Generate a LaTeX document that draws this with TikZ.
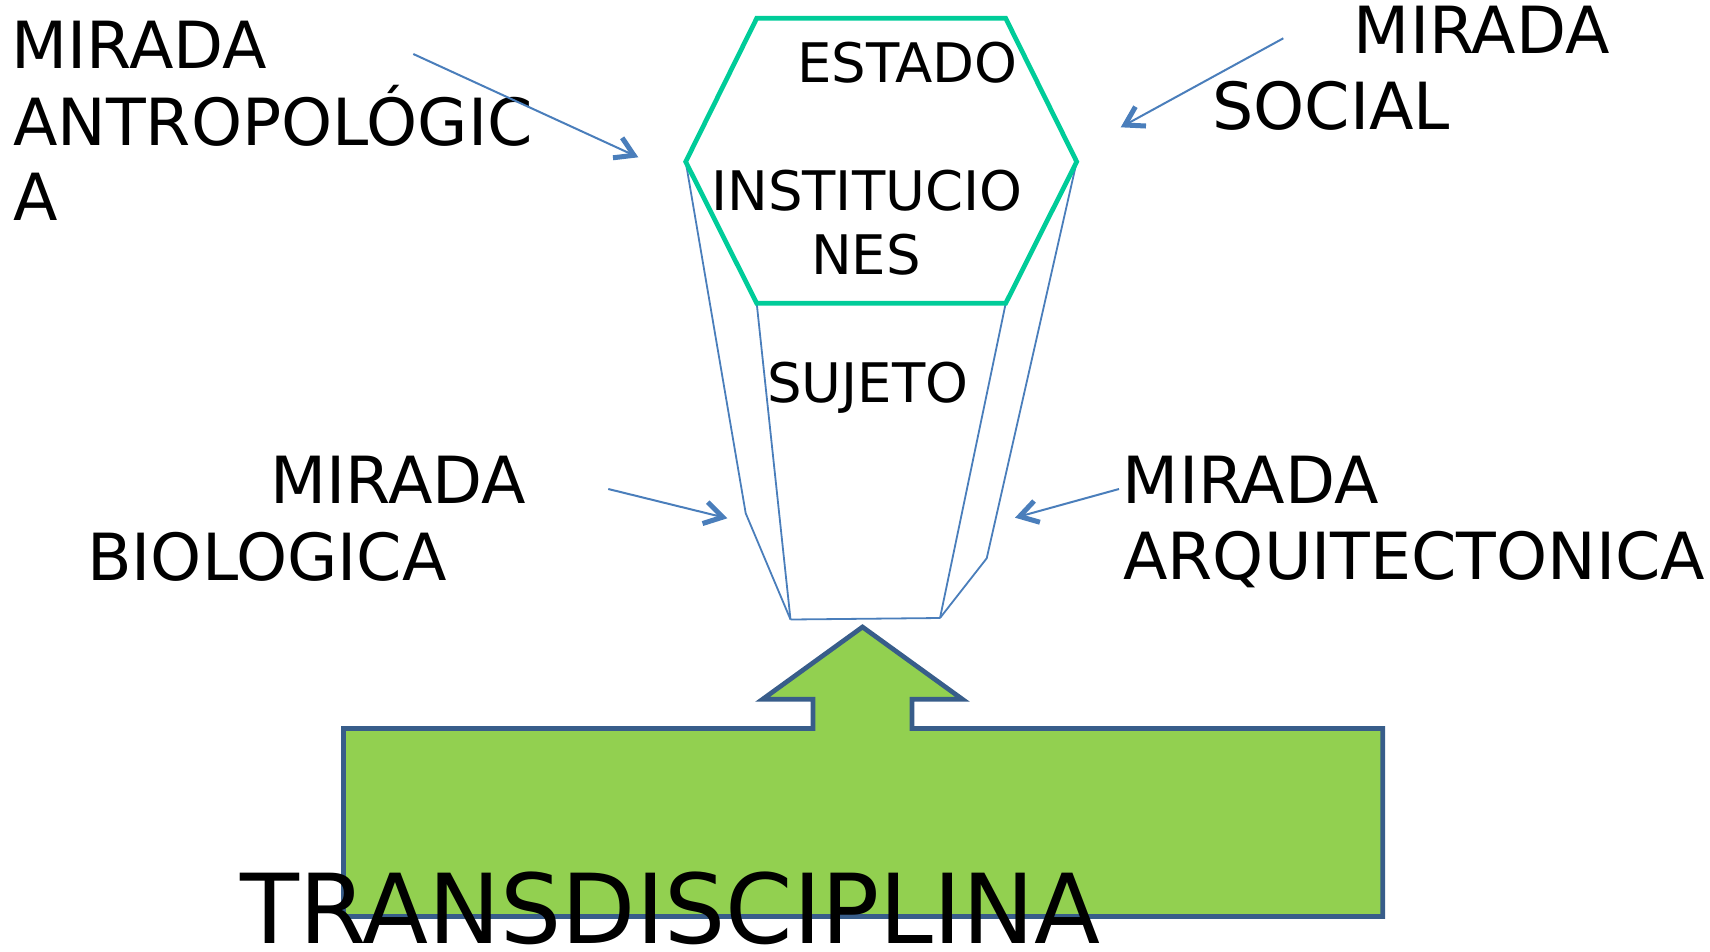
\documentclass[tikz,border=0pt]{standalone}
\usepackage{fontspec}
\setmainfont{DejaVu Sans}
\usetikzlibrary{arrows.meta}
\definecolor{hexgreen}{RGB}{0,204,153}
\definecolor{lineblue}{RGB}{74,126,187}
\definecolor{fillgreen}{RGB}{146,208,80}
\definecolor{edgeblue}{RGB}{56,93,138}
\begin{document}
\begin{tikzpicture}[x=1pt,y=-1pt,
  lbl/.style={anchor=base west,inner sep=0pt,font=\fontsize{65}{76}\selectfont},
  hexlbl/.style={anchor=base west,inner sep=0pt,font=\fontsize{54.5}{64}\selectfont},
  biglbl/.style={anchor=base west,inner sep=0pt,font=\fontsize{96.5}{110}\selectfont},
  hexline/.style={draw=hexgreen,line width=4.7pt,line join=miter},
  bodyline/.style={draw=lineblue,line width=1.8pt},
  pointer/.style={draw=lineblue,line width=2pt,-{Straight Barb[length=18pt,width=22pt,line width=5pt]}},
  bigarrow/.style={fill=fillgreen,draw=edgeblue,line width=4.7pt,line join=miter}]
\useasboundingbox (0,0) rectangle (1710,951);

% big green arrow shape
\draw[bigarrow] (343.5,728.5) -- (813,728.5) -- (813,699.3) -- (762.5,699.3)
  -- (862.5,627) -- (962.5,699.3) -- (912,699.3) -- (912,728.5)
  -- (1382.7,728.5) -- (1382.7,916.4) -- (343.5,916.4) -- cycle;

% hexagon vertices
\coordinate (hTL) at (756.7,18.3);
\coordinate (hTR) at (1005.7,18.3);
\coordinate (hR) at (1076.7,161.7);
\coordinate (hBR) at (1005.7,303.3);
\coordinate (hBL) at (756.7,303.3);
\coordinate (hL) at (685.7,161.7);
% body vertices
\coordinate (bLk) at (745.7,513.3);
\coordinate (bBL) at (790.5,619.5);
\coordinate (bBR) at (940,618);
\coordinate (bRk) at (986.7,558.3);

% body lines
\draw[bodyline] (hL) -- (bLk) -- (bBL);
\draw[bodyline] (hBL) -- (bBL);
\draw[bodyline] (bBL) -- (bBR);
\draw[bodyline] (hBR) -- (bBR);
\draw[bodyline] (hR) -- (bRk) -- (bBR);

% hexagon
\draw[hexline] (hTL) -- (hTR) -- (hR) -- (hBR) -- (hBL) -- (hL) -- cycle;

% texts inside
\node[hexlbl] (estado) at (797,82.7) {ESTADO};
\node[hexlbl] (inst1) at (711,210) {INSTITUCIO};
\node[hexlbl] (inst2) at (811,274) {NES};
\node[hexlbl] (sujeto) at (767,402.7) {SUJETO};

% outer labels
\node[lbl] (antro1) at (11,68.3) {MIRADA};
\node[lbl] (antro2) at (13,145) {ANTROPOLÓGIC};
\node[lbl] (antro3) at (13,220.7) {A};
\node[lbl] (social1) at (1353.7,53.3) {MIRADA};
\node[lbl] (social2) at (1212,129.3) {SOCIAL};
\node[lbl] (bio1) at (270.4,503.3) {MIRADA};
\node[lbl] (bio2) at (87,580) {BIOLOGICA};
\node[lbl] (arq1) at (1122.7,503.3) {MIRADA};
\node[lbl] (arq2) at (1123,579.3) {ARQUITECTONICA};
\node[biglbl] (trans) at (240,943.3) {TRANSDISCIPLINA};

% pointer arrows
\coordinate (a1s) at (413.3,54);
\coordinate (a1e) at (638.3,157.3);
\coordinate (a2s) at (1283.3,38.3);
\coordinate (a2e) at (1120.7,127.3);
\coordinate (a3s) at (608.3,489);
\coordinate (a3e) at (727.3,518.3);
\coordinate (a4s) at (1119,489);
\coordinate (a4e) at (1015,517.7);
\draw[pointer] (a1s) -- (a1e);
\draw[pointer] (a2s) -- (a2e);
\draw[pointer] (a3s) -- (a3e);
\draw[pointer] (a4s) -- (a4e);
\end{tikzpicture}
\end{document}
